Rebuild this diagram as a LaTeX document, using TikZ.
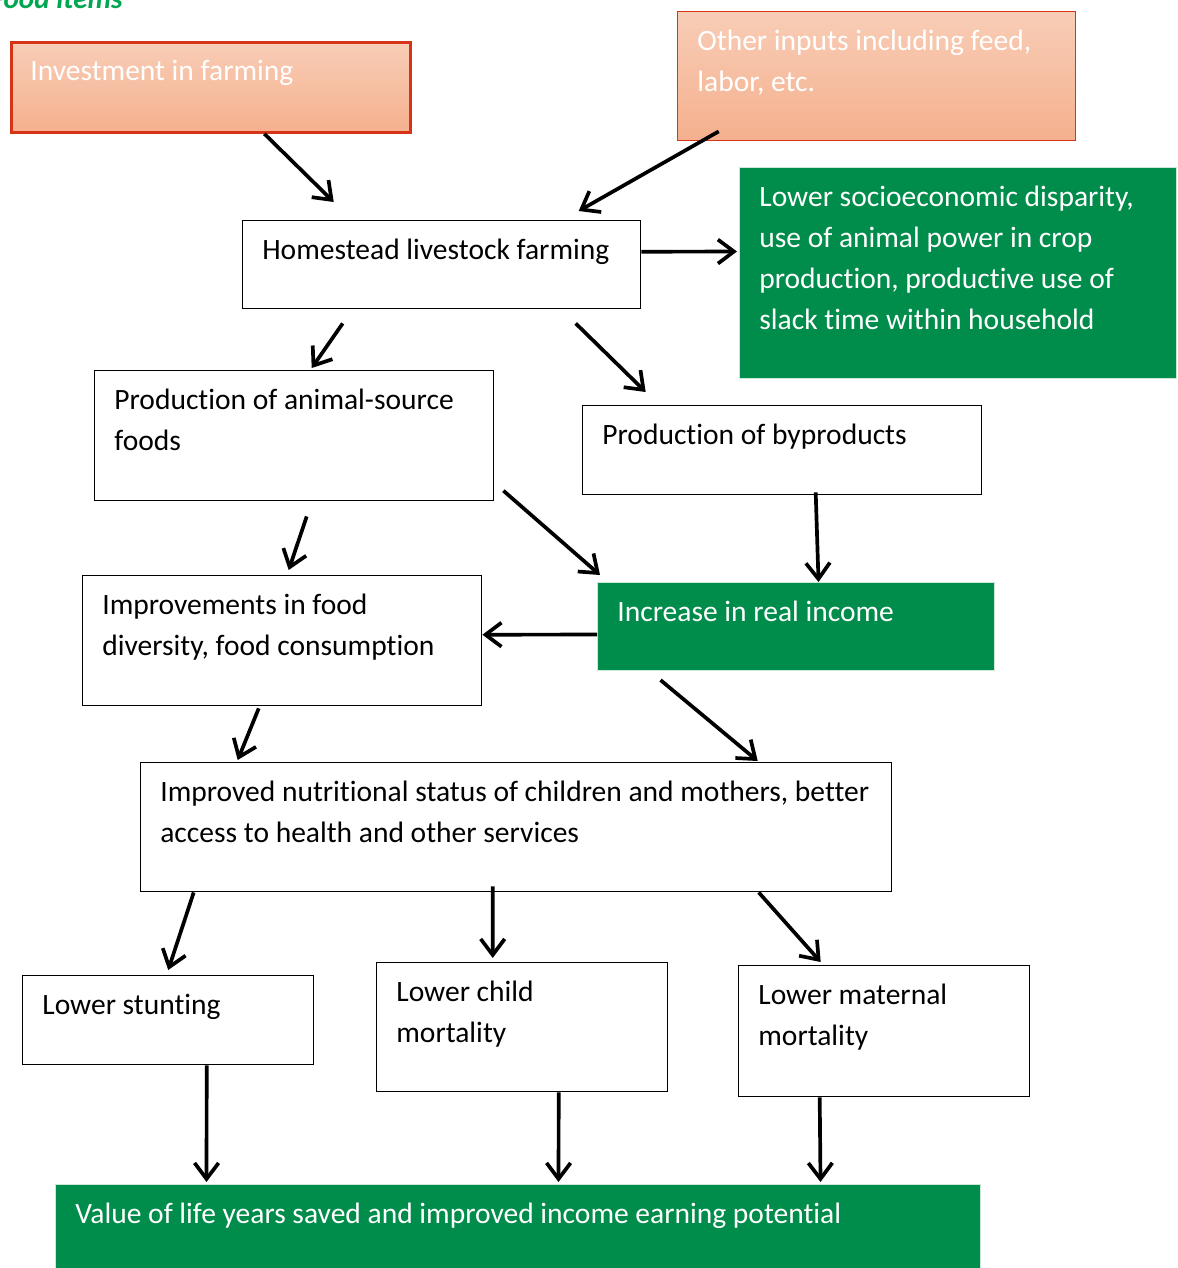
\documentclass[tikz,border=0pt]{standalone}
\usepackage{fontspec}
\setmainfont{Carlito}[Ligatures=CommonOff]
\usepackage{tikz}
\usetikzlibrary{arrows.meta,positioning}

\definecolor{boxgreen}{RGB}{0,140,75}
\definecolor{edgegreen}{RGB}{205,232,214}
\definecolor{peachtop}{RGB}{248,205,182}
\definecolor{peachbot}{RGB}{245,176,142}
\definecolor{edgered}{RGB}{214,52,22}
\definecolor{titlegreen}{RGB}{0,166,80}

\begin{document}
\begin{tikzpicture}[
    box/.style={rectangle, anchor=north west, draw=black, line width=0.8pt, fill=white},
    inbox/.style={box, draw=edgered, top color=peachtop, bottom color=peachbot},
    outbox/.style={box, draw=edgegreen, line width=0.6pt, fill=boxgreen},
    txt/.style={anchor=north west, inner sep=0pt, xshift=0.4cm, yshift=-0.38cm,
                align=left, font=\fontsize{16.8}{23.3}\selectfont},
    wtxt/.style={txt, text=white},
    arrow/.style={-{Straight Barb[length=3.2mm, width=4.8mm]}, line width=2.1pt, line join=round}
]
    \useasboundingbox (0,0) rectangle (23.54,-25.36);
    \clip (0,0) rectangle (23.54,-25.36);

    % caption left over from the page (cut at the top)
    \node[anchor=base east, inner sep=0pt, text=titlegreen,
          font=\fontsize{16.6}{20}\selectfont\bfseries\itshape] (title) at (2.46,-0.16) {Food items};

    % Inputs (top)
    \node[inbox, line width=1.6pt, minimum width=7.98cm, minimum height=1.8cm,
          label={[wtxt, name=invt]north west:Investment in farming}] (inv) at (0.2,-0.82) {};
    \node[inbox, minimum width=7.96cm, minimum height=2.58cm,
          label={[wtxt, name=othert]north west:Other inputs including feed,\\labor, etc.}] (other) at (13.54,-0.22) {};

    % Farming and its side effects
    \node[box, minimum width=7.96cm, minimum height=1.76cm,
          label={[txt, name=homet]north west:Homestead livestock farming}] (home) at (4.84,-4.4) {};
    \node[outbox, minimum width=8.74cm, minimum height=4.22cm,
          label={[wtxt, name=sociot]north west:Lower socioeconomic disparity,\\use of animal power in crop\\production, productive use of\\slack time within household}] (socio) at (14.78,-3.34) {};

    % Production
    \node[box, minimum width=7.98cm, minimum height=2.6cm,
          label={[txt, name=animt]north west:Production of animal-source\\foods}] (anim) at (1.88,-7.4) {};
    \node[box, minimum width=7.98cm, minimum height=1.78cm,
          label={[txt, name=byprodt]north west:Production of byproducts}] (byprod) at (11.64,-8.1) {};

    % Food and income
    \node[box, minimum width=7.98cm, minimum height=2.6cm,
          label={[txt, name=foodt]north west:Improvements in food\\diversity, food consumption}] (food) at (1.64,-11.5) {};
    \node[outbox, minimum width=7.94cm, minimum height=1.76cm,
          label={[wtxt, name=incomet]north west:Increase in real income}] (income) at (11.94,-11.64) {};

    % Nutrition
    \node[box, minimum width=15.02cm, minimum height=2.58cm,
          label={[txt, name=nutrit]north west:Improved nutritional status of children and mothers, better\\access to health and other services}] (nutri) at (2.8,-15.24) {};

    % Outcomes
    \node[box, minimum width=5.82cm, minimum height=1.78cm,
          label={[txt, name=stuntt]north west:Lower stunting}] (stunt) at (0.44,-19.5) {};
    \node[box, minimum width=5.82cm, minimum height=2.58cm,
          label={[txt, name=childt]north west:Lower child\\mortality}] (child) at (7.52,-19.24) {};
    \node[box, minimum width=5.82cm, minimum height=2.62cm,
          label={[txt, name=matt]north west:Lower maternal\\mortality}] (mat) at (14.76,-19.3) {};

    % Value (bottom)
    \node[outbox, minimum width=18.5cm, minimum height=2.2cm,
          label={[wtxt, name=valuet]north west:Value of life years saved and improved income earning potential}] (value) at (1.1,-23.68) {};

    % Arrows
    \draw[arrow] ([xshift=1.07cm]inv.south) -- ([shift={(-2.16,0.36)}]home.north);
    \draw[arrow] ([shift={(-3.16,0.2)}]other.south) -- ([shift={(2.74,0.18)}]home.north);
    \draw[arrow] ([yshift=0.26cm]home.east) -- ([shift={(-0.04,0.43)}]socio.west);
    \draw[arrow] ([shift={(-1.98,-0.28)}]home.south) -- ([shift={(0.35,0.04)}]anim.north);
    \draw[arrow] ([shift={(2.68,-0.28)}]home.south) -- ([shift={(-2.73,0.26)}]byprod.north);
    \draw[arrow] ([shift={(0.25,-0.3)}]anim.south) -- ([shift={(0.13,0.1)}]food.north);
    \draw[arrow] ([shift={(0.18,-1.1)}]anim.east) -- ([shift={(0.06,0.14)}]income.north west);
    \draw[arrow] ([shift={(0.67,0.06)}]byprod.south) -- ([xshift=0.45cm]income.north);
    \draw[arrow] ([yshift=-0.16cm]income.west) -- ([yshift=0.12cm]food.east);
    \draw[arrow] ([shift={(-0.47,-0.04)}]food.south) -- ([shift={(-5.57,0.04)}]nutri.north);
    \draw[arrow] ([shift={(-2.71,-0.18)}]income.south) -- ([shift={(4.83,0.02)}]nutri.north);
    \draw[arrow] ([xshift=-6.45cm]nutri.south) -- ([yshift=0.1cm]stunt.north);
    \draw[arrow] ([shift={(-0.47,0.12)}]nutri.south) -- ([shift={(-0.59,0.08)}]child.north);
    \draw[arrow] ([xshift=4.85cm]nutri.south) -- ([shift={(-1.27,0.06)}]mat.north);
    \draw[arrow] ([xshift=0.77cm]stunt.south) -- ([shift={(-6.23,0.04)}]value.north);
    \draw[arrow] ([xshift=0.73cm]child.south) -- ([shift={(0.81,0.04)}]value.north);
    \draw[arrow] ([xshift=-1.29cm]mat.south) -- ([shift={(6.05,0.04)}]value.north);
\end{tikzpicture}
\end{document}
